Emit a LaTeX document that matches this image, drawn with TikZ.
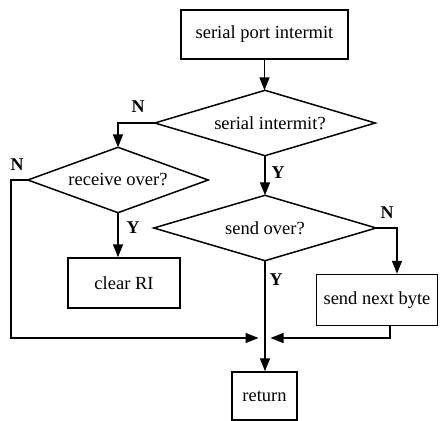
\documentclass[tikz,border=0pt]{standalone}
\usepackage{fontspec}
\setmainfont{Liberation Serif}
\usetikzlibrary{arrows.meta}
\begin{document}
\begin{tikzpicture}[x=1pt,y=-1pt,
  every node/.style={font=\fontsize{18.5}{20}\selectfont},
  line/.style={line width=1.5pt},
  arr/.style={line, -{Triangle[length=13pt,width=10pt]}},
  pbox/.style={draw, line width=1.5pt, inner sep=0pt, anchor=center},
  dec/.style={inner sep=0pt, anchor=center},
  lbl/.style={font=\fontsize{18}{19}\bfseries\selectfont, inner sep=0pt}]
\useasboundingbox (0,0) rectangle (440,421);
% nodes
\node[pbox, minimum width=167pt, minimum height=49pt] (b1) at (264.5,34.5) {serial port intermit};
\node[dec, minimum width=220pt, minimum height=65pt] (d1) at (265,123) {\hspace*{10pt}serial intermit?};
\node[dec, minimum width=180pt, minimum height=65pt] (d2) at (118,180) {receive over?};
\node[dec, minimum width=222pt, minimum height=65pt] (d3) at (265,228) {send over?};
\foreach \d in {d1,d2,d3}
  \draw[line, line join=miter] (\d.north) -- (\d.east) -- (\d.south) -- (\d.west) -- cycle;
\node[pbox, minimum width=112pt, minimum height=50pt] (cr) at (124,283) {clear RI};
\node[pbox, minimum width=121pt, minimum height=51pt] (sb) at (377,300) {send next byte};
\node[pbox, minimum width=65pt, minimum height=48pt] (ret) at (264.5,396) {return};
\coordinate (j) at (264.5,338);
% labels
\node[lbl] (n1) at (138,107) {N};
\node[lbl] (n2) at (17,165) {N};
\node[lbl] (y1) at (133,228) {Y};
\node[lbl] (y2) at (278,173) {Y};
\node[lbl] (n3) at (387,213) {N};
\node[lbl] (y3) at (276,280) {Y};
% connectors
\draw[arr] (b1.south) -- (b1.south |- d1.north);
\draw[arr] (d1.west) -| (d2.north);
\draw[arr] (d1.south) -- (d1.south |- d3.north);
\draw[arr] (d2.south) -- (d2.south |- cr.north);
\draw[arr] (d3.east) -| ([xshift=20pt]sb.north);
\draw[arr] (d3.south) -- (d3.south |- ret.north);
\draw[arr, shorten >=6pt] (d2.west) -- ++(-17,0) |- (j);
\draw[arr, shorten >=6pt] ([xshift=13pt]sb.south) |- (j);
\end{tikzpicture}
\end{document}
